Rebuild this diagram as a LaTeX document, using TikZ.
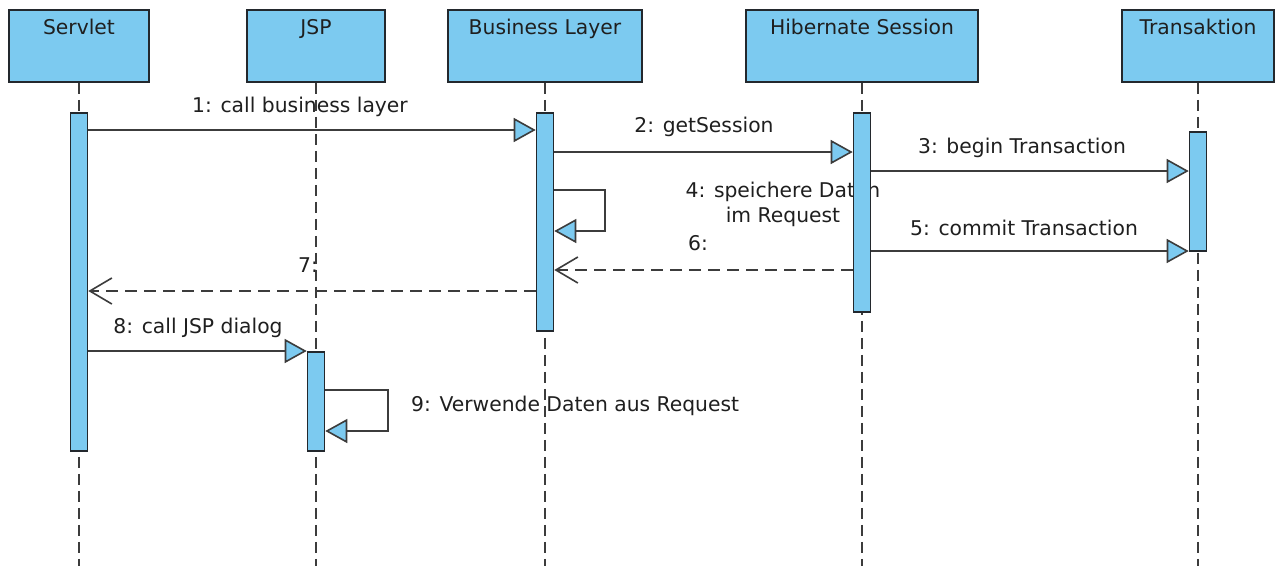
\documentclass[tikz,border=0pt]{standalone}
\usepackage{fontspec}
\setmainfont{DejaVu Sans}
\usetikzlibrary{arrows.meta}
\definecolor{ublue}{RGB}{124,202,240}
\definecolor{uline}{RGB}{35,40,45}
\definecolor{umsg}{RGB}{60,60,60}
\begin{document}
\begin{tikzpicture}[x=1pt,y=-1pt,
  every node/.style={font=\fontsize{20.3}{25}\selectfont, text=black!88},
  objbox/.style={draw=uline, line width=1.8pt, fill=ublue, inner xsep=0pt, inner ysep=4pt,
    text height=21pt, text depth=43pt, anchor=north},
  actbar/.style={draw=uline, line width=1.6pt, fill=ublue, minimum width=17pt, inner sep=0pt, anchor=north},
  lifeline/.style={draw=umsg, line width=1.6pt, dash pattern=on 11pt off 6pt},
  msg/.style={draw=umsg, line width=1.8pt, line join=miter,
    -{Triangle[length=22pt,width=24pt,fill=ublue,line width=1.6pt]}},
  ret/.style={draw=umsg, line width=1.8pt, dash pattern=on 12pt off 7pt,
    -{Straight Barb[length=22pt,width=26pt,line width=1.6pt]}},
  lbl/.style={inner sep=1pt}
]
\useasboundingbox (0,0) rectangle (1279,566);
\fill[white] (0,0) rectangle (1279,566);

% object boxes
\node[objbox, minimum width=140pt] (S) at (79,9) {Servlet};
\node[objbox, minimum width=138pt] (J) at (316,9) {JSP};
\node[objbox, minimum width=194pt] (B) at (545,9) {Business Layer};
\node[objbox, minimum width=232pt] (H) at (862,9) {Hibernate Session};
\node[objbox, minimum width=152pt] (T) at (1198,9) {Transaktion};

% labels
\node[lbl] (l1) at (300,107) {1: call business layer};
\node[lbl] (l2) at (704,127) {2: getSession};
\node[lbl] (l3) at (1022,148) {3: begin Transaction};
\node[lbl, align=center] (l4) at (783,204) {4: speichere Daten\\im Request};
\node[lbl] (l5) at (1024,228) {5: commit Transaction};
\node[lbl] (l6) at (698,243) {6:};
\node[lbl] (l7) at (308,265) {7:};
\node[lbl] (l8) at (198,328) {8: call JSP dialog};
\node[lbl, anchor=west] (l9) at (410,406) {9: Verwende Daten aus Request};

% lifelines
\coordinate (Se) at (79,566);
\coordinate (Je) at (316,566);
\coordinate (Be) at (545,566);
\coordinate (He) at (862,566);
\coordinate (Te) at (1198,566);
\draw[lifeline] (S.south) -- (Se);
\draw[lifeline] (J.south) -- (Je);
\draw[lifeline] (B.south) -- (Be);
\draw[lifeline] (H.south) -- (He);
\draw[lifeline] (T.south) -- (Te);

% activation bars
\node[actbar, minimum height=338pt] (aS) at (79,112) {};
\node[actbar, minimum height=218pt] (aB) at (545,112) {};
\node[actbar, minimum height=199pt] (aH) at (862,112) {};
\node[actbar, minimum height=119pt] (aT) at (1198,131) {};
\node[actbar, minimum height=99pt] (aJ) at (316,351) {};

% messages
\draw[msg] (aS.east |- 0,130) -- (aB.west |- 0,130);
\draw[msg] (aB.east |- 0,152) -- (aH.west |- 0,152);
\draw[msg] (aH.east |- 0,171) -- (aT.west |- 0,171);
\coordinate (s4) at (605,231);
\draw[msg] (aB.east |- 0,190) -| (s4) -- (aB.east |- s4);
\draw[msg] (aH.east |- 0,251) -- (aT.west |- 0,251);
\draw[ret] (aH.west |- 0,270) -- (aB.east |- 0,270);
\draw[ret] (aB.west |- 0,291) -- (aS.east |- 0,291);
\draw[msg] (aS.east |- 0,351) -- (aJ.west |- 0,351);
\coordinate (s9) at (388,431);
\draw[msg] (aJ.east |- 0,390) -| (s9) -- (aJ.east |- s9);
\end{tikzpicture}
\end{document}
